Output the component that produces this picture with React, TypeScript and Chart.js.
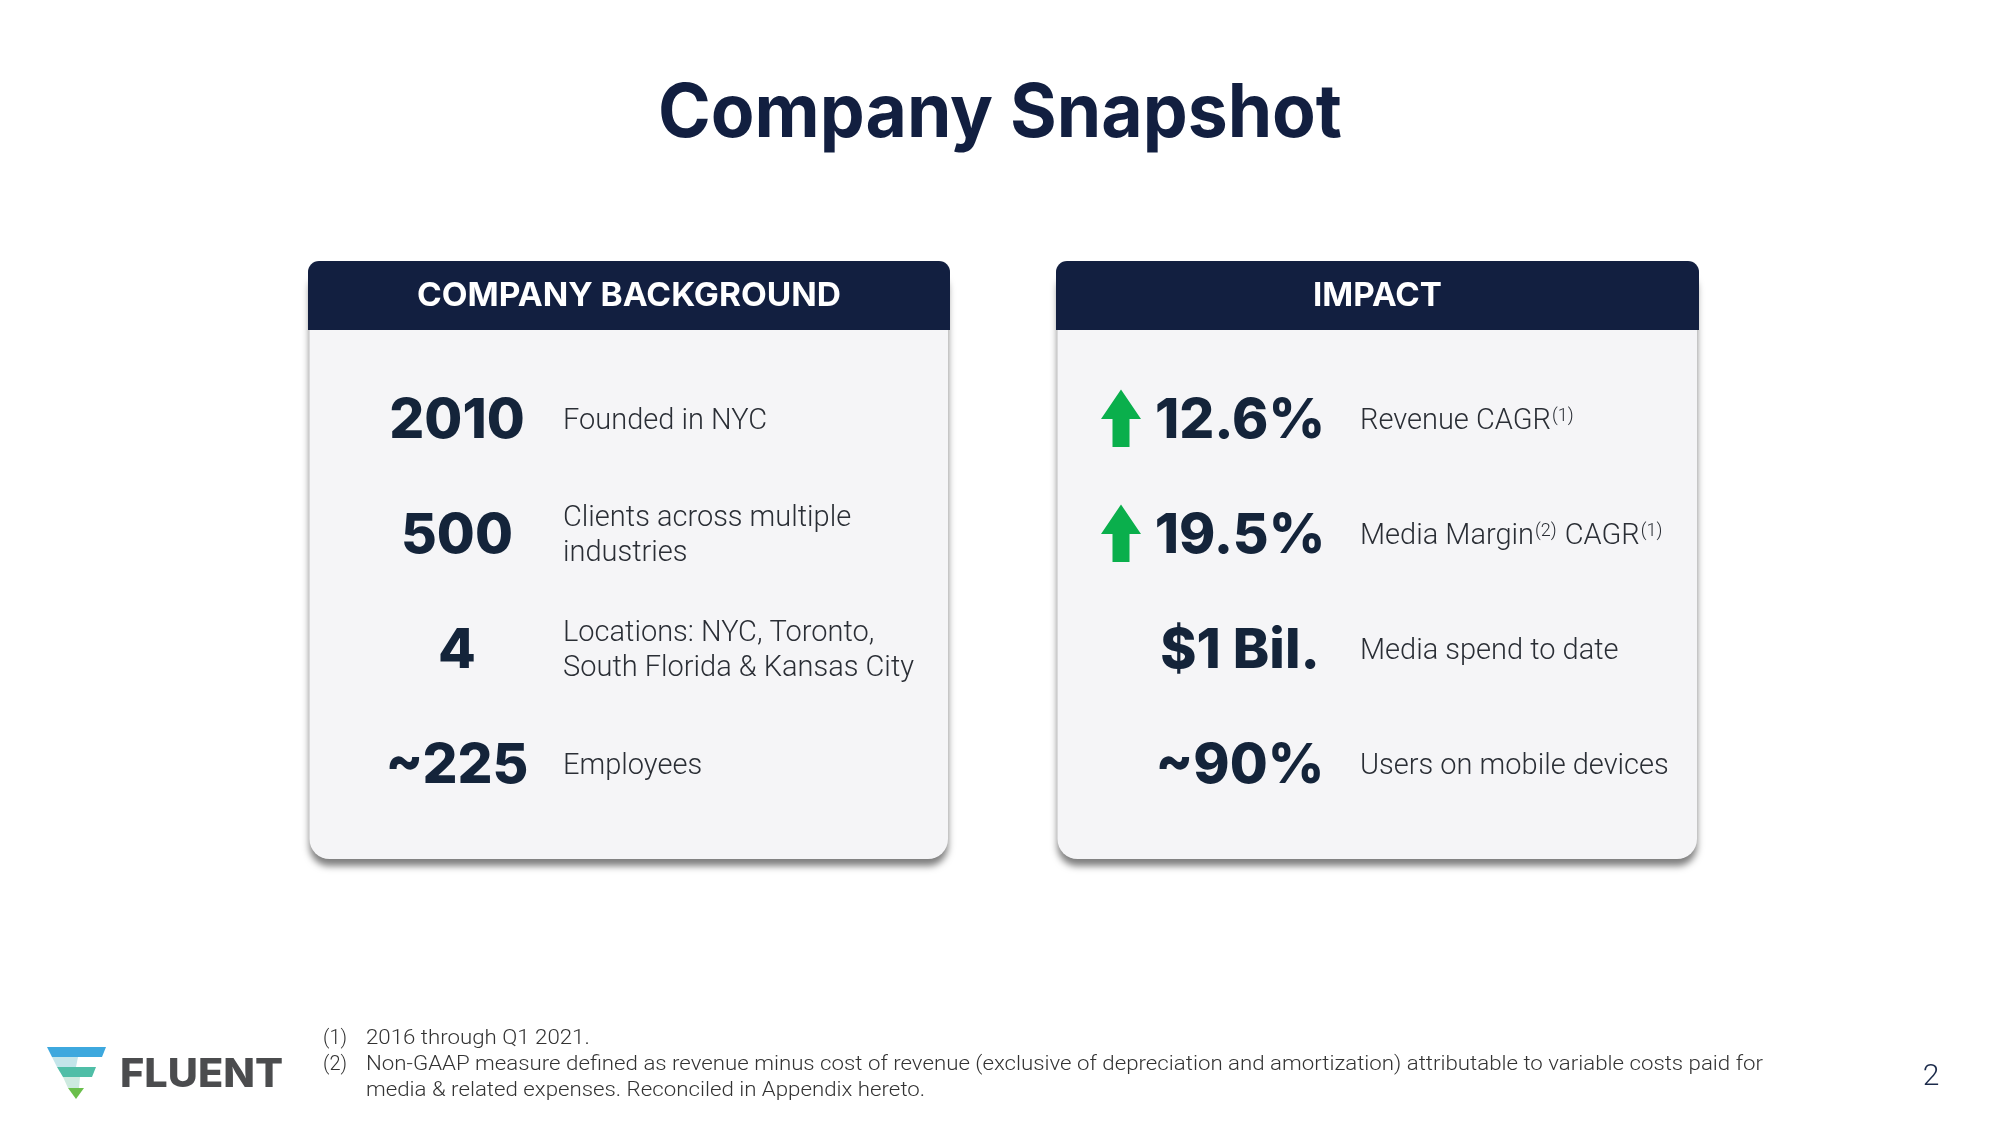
import { useEffect, useRef } from 'react';
import { Chart, registerables } from 'chart.js';

Chart.register(...registerables);

// ---- content ----
const titleText = 'Company Snapshot';
const cardTitles = ['COMPANY BACKGROUND', 'IMPACT'];

const backgroundValues = ['2010', '500', '4', '~225'];
const backgroundLabels = [
  ['Founded in NYC'],
  ['Clients across multiple', 'industries'],
  ['Locations: NYC, Toronto,', 'South Florida & Kansas City'],
  ['Employees'],
];

const impactValues = ['12.6%', '19.5%', '$1 Bil.', '~90%'];
const impactUp = [true, true, false, false];
const impactLabels = [
  'Revenue CAGR^(1)',
  'Media Margin^(2) CAGR^(1)',
  'Media spend to date',
  'Users on mobile devices',
];

const footnoteMarks = ['(1)', '(2)'];
const footnoteLines = [
  ['2016 through Q1 2021.'],
  [
    'Non-GAAP measure defined as revenue minus cost of revenue (exclusive of depreciation and amortization) attributable to variable costs paid for',
    'media & related expenses. Reconciled in Appendix hereto.',
  ],
];
const brandName = 'FLUENT';
const pageNumber = '2';

// ---- styles ----
const NAVY = '#121f40';
const NUM = '#14243a';
const TEXT = '#2a2e35';
const BODY = '#f5f5f7';
const GREEN = '#0aaf4c';

function fitText(ctx: CanvasRenderingContext2D, text: string, x: number, y: number, w: number, align: CanvasTextAlign) {
  const m = ctx.measureText(text).width;
  const s = w / m;
  ctx.save();
  ctx.translate(x, y);
  ctx.scale(s, 1);
  ctx.textAlign = align;
  ctx.fillText(text, 0, 0);
  ctx.restore();
  return s;
}

function drawRich(ctx: CanvasRenderingContext2D, label: string, x: number, y: number) {
  const parts = label.split(/\^\(([^)]*)\)/);
  let cx = x;
  ctx.textAlign = 'left';
  parts.forEach((p, i) => {
    if (!p) return;
    if (i % 2 === 0) {
      ctx.font = '300 29px Roboto';
      ctx.fillText(p, cx, y);
      cx += ctx.measureText(p).width;
    } else {
      const t = '(' + p + ')';
      ctx.font = '300 18px Roboto';
      ctx.fillText(t, cx + 1, y - 8);
      cx += ctx.measureText(t).width + 2;
    }
  });
}

const slidePlugin = {
  id: 'slide',
  beforeDraw(chart: any) {
    const ctx: CanvasRenderingContext2D = chart.ctx;
    const sx = chart.scales.x;
    const sy = chart.scales.y;
    const X = (v: number) => sx.getPixelForValue(v);
    const Y = (v: number) => sy.getPixelForValue(v);

    ctx.save();
    ctx.fillStyle = '#ffffff';
    ctx.fillRect(0, 0, chart.width, chart.height);
    ctx.textBaseline = 'alphabetic';

    // title
    ctx.fillStyle = NAVY;
    ctx.font = '700 74px Inter, "Open Sans", sans-serif';
    fitText(ctx, titleText, X(1000), Y(137), 684, 'center');

    // cards
    const cards = [
      { x0: 308, x1: 950 },
      { x0: 1056, x1: 1699 },
    ];
    cards.forEach((c, ci) => {
      const left = X(c.x0);
      const right = X(c.x1);
      const top = Y(261);
      const head = Y(330);
      const bottom = Y(859);
      ctx.save();
      ctx.shadowColor = 'rgba(0,0,0,0.5)';
      ctx.shadowBlur = 7;
      ctx.shadowOffsetY = 7;
      ctx.fillStyle = BODY;
      ctx.beginPath();
      (ctx as any).roundRect(left + 1.5, top + 10, right - left - 3.5, bottom - top - 10, [10, 10, 20, 20]);
      ctx.fill();
      ctx.restore();

      ctx.fillStyle = NAVY;
      ctx.beginPath();
      (ctx as any).roundRect(left, top, right - left, head - top, [11, 11, 0, 0]);
      ctx.fill();

      ctx.fillStyle = '#ffffff';
      ctx.font = '700 33px Inter, "Open Sans", sans-serif';
      fitText(ctx, cardTitles[ci], (left + right) / 2, Y(306), ci === 0 ? 424 : 129, 'center');
    });

    // rows
    const rowY = (i: number) => 418 + i * 115;

    backgroundValues.forEach((v, i) => {
      const cy = rowY(i);
      ctx.fillStyle = NUM;
      ctx.font = '800 55px Inter, "Open Sans", sans-serif';
      ctx.textAlign = 'center';
      ctx.fillText(v, X(457), Y(cy + 20));
      ctx.fillStyle = TEXT;
      ctx.font = '300 29px Roboto';
      ctx.textAlign = 'left';
      const lines = backgroundLabels[i];
      lines.forEach((l, li) => {
        const off = (li - (lines.length - 1) / 2) * 35;
        ctx.fillText(l, X(563), Y(cy + off + 10.5));
      });
    });

    impactValues.forEach((v, i) => {
      const cy = rowY(i);
      if (impactUp[i]) {
        const ax = X(1121);
        ctx.fillStyle = GREEN;
        ctx.beginPath();
        ctx.moveTo(ax, Y(cy - 28.5));
        ctx.lineTo(ax + 20, Y(cy + 1));
        ctx.lineTo(ax + 8.5, Y(cy + 1));
        ctx.lineTo(ax + 8.5, Y(cy + 29));
        ctx.lineTo(ax - 8.5, Y(cy + 29));
        ctx.lineTo(ax - 8.5, Y(cy + 1));
        ctx.lineTo(ax - 20, Y(cy + 1));
        ctx.closePath();
        ctx.fill();
      }
      ctx.fillStyle = NUM;
      ctx.font = '800 55px Inter, "Open Sans", sans-serif';
      ctx.textAlign = 'center';
      ctx.fillText(v, X(1240), Y(cy + 20));
      ctx.fillStyle = TEXT;
      drawRich(ctx, impactLabels[i], X(1360), Y(cy + 10.5));
    });

    // logo mark
    const poly = (pts: number[][], color: string) => {
      ctx.fillStyle = color;
      ctx.beginPath();
      pts.forEach((p, k) => (k === 0 ? ctx.moveTo(X(p[0]), Y(p[1])) : ctx.lineTo(X(p[0]), Y(p[1]))));
      ctx.closePath();
      ctx.fill();
    };
    poly([[47, 1047], [106, 1047], [102, 1057], [52, 1057]], '#3da8de');
    poly([[52, 1057], [78, 1057], [76, 1067], [57, 1067]], '#c3e5ea');
    poly([[57, 1067], [96, 1067], [92, 1077], [63, 1077]], '#4fbea7');
    poly([[63, 1077], [80, 1077], [79, 1088], [68, 1088]], '#cdeadf');
    poly([[68, 1088], [84, 1088], [76, 1099]], '#6abf4b');

    ctx.fillStyle = '#4b4c4e';
    ctx.font = '800 39px Inter, "Open Sans", sans-serif';
    fitText(ctx, brandName, X(120), Y(1087), 163, 'left');

    // footnotes
    ctx.fillStyle = '#333333';
    ctx.font = '300 20px Roboto';
    const longest = footnoteLines[1][0];
    const fs = 1397 / ctx.measureText(longest).width;
    let line = 0;
    footnoteMarks.forEach((mk, fi) => {
      footnoteLines[fi].forEach((t, ti) => {
        const by = Y(1044 + line * 26);
        if (ti === 0) {
          ctx.textAlign = 'left';
          ctx.fillText(mk, X(323), by);
        }
        ctx.save();
        ctx.translate(X(366), by);
        ctx.scale(fs, 1);
        ctx.textAlign = 'left';
        ctx.fillText(t, 0, 0);
        ctx.restore();
        line++;
      });
    });

    // page number
    ctx.fillStyle = '#1b2a4a';
    ctx.font = '300 30px Roboto';
    ctx.textAlign = 'center';
    ctx.fillText(pageNumber, X(1931), Y(1085));

    ctx.restore();
  },
};

export default function App() {
  const ref = useRef<HTMLCanvasElement>(null);
  useEffect(() => {
    if (!ref.current) return;
    const chart = new Chart(ref.current, {
      type: 'scatter',
      data: { datasets: [] },
      options: {
        animation: false,
        responsive: false,
        maintainAspectRatio: false,
        devicePixelRatio: 1,
        events: [],
        layout: { padding: 0 },
        plugins: { legend: { display: false }, tooltip: { enabled: false }, title: { display: false } },
        scales: {
          x: { type: 'linear', min: 0, max: 2000, display: false },
          y: { type: 'linear', min: 0, max: 1126, reverse: true, display: false },
        },
      },
      plugins: [slidePlugin],
    });
    return () => chart.destroy();
  }, []);
  return (
    <div style={{ position: 'absolute', left: 0, top: 0, width: 2000, height: 1126, background: '#fff' }}>
      <canvas ref={ref} width={2000} height={1126} style={{ display: 'block' }} />
    </div>
  );
}
